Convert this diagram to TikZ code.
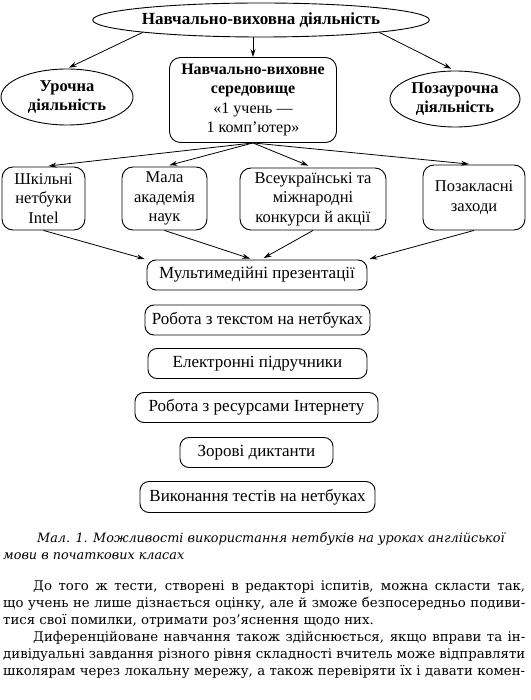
\documentclass[tikz,border=0pt]{standalone}
\usepackage{fontspec}
\setmainfont{Liberation Serif}
\newfontfamily\bodyfont{DejaVu Serif}
\usetikzlibrary{shapes.geometric,arrows.meta}
\begin{document}
\begin{tikzpicture}[x=1pt,y=-1pt,
  ell/.style={draw,ellipse,line width=0.9pt,inner sep=0pt,align=center,
    font=\fontsize{16.5}{19}\selectfont\bfseries},
  rbox/.style={draw,rounded corners=11pt,line width=0.9pt,inner sep=0pt,align=center,
    font=\fontsize{16.5}{19.5}\selectfont},
  sbox/.style={draw,rounded corners=9pt,line width=0.9pt,inner sep=0pt,
    minimum height=30pt,font=\fontsize{17}{20}\selectfont},
  arr/.style={-{Stealth[length=8pt,width=5pt]},line width=0.8pt},
  bodyline/.style={anchor=base west,inner sep=0pt,
    font=\bodyfont\fontsize{13.3}{17}\selectfont},
  capline/.style={anchor=base west,inner sep=0pt,
    font=\bodyfont\itshape\fontsize{12.8}{17}\selectfont},
]
\useasboundingbox (0,0) rectangle (530,700);

% top level
\node[ell,minimum width=288pt,minimum height=34pt,font=\fontsize{17}{19}\selectfont\bfseries] (top) at (261,20) {Навчально-виховна діяльність};
\node[ell,minimum width=132pt,minimum height=56pt] (uroch) at (67,97) {Урочна\\діяльність};
\node[ell,minimum width=130pt,minimum height=56pt] (poza) at (455,99) {Позаурочна\\діяльність};
\node[rbox,minimum width=167pt,minimum height=85pt,font=\fontsize{16}{19.5}\selectfont] (env) at (253,100)
  {\textbf{Навчально-виховне}\\\textbf{середовище}\\«1 учень —\\1 комп’ютер»};

% row of boxes
\node[rbox,minimum width=83pt,minimum height=63pt] (b1) at (43.5,198.5) {Шкільні\\нетбуки\\Intel};
\node[rbox,minimum width=85pt,minimum height=63pt] (b2) at (164.5,198.5) {Мала\\академія\\наук};
\node[rbox,minimum width=146pt,minimum height=62pt] (b3) at (313,199) {Всеукраїнські та\\міжнародні\\конкурси й акції};
\node[rbox,minimum width=102pt,minimum height=65pt] (b4) at (474,197.5) {Позакласні\\заходи};

% stack
\node[sbox,minimum width=220pt] (s1) at (257,275) {Мультимедійні презентації};
\node[sbox,minimum width=225pt] (s2) at (257.5,320) {Робота з текстом на нетбуках};
\node[sbox,minimum width=219pt] (s3) at (257.5,363.5) {Електронні підручники};
\node[sbox,minimum width=243pt] (s4) at (256.5,407.5) {Робота з ресурсами Інтернету};
\node[sbox,minimum width=153pt] (s5) at (256.5,452.5) {Зорові диктанти};
\node[sbox,minimum width=235pt,minimum height=31pt] (s6) at (257.5,497) {Виконання тестів на нетбуках};

% connectors
\draw[arr,shorten >=2pt] (top.186) -- (uroch.north);
\draw[arr,shorten >=4pt] (top.-6) -- (poza.north);
\draw[arr] (top.south -| env.north) -- (env.north);
\draw[arr,shorten >=5pt] (env.south) -- (b1.north);
\draw[arr,shorten >=5pt] (env.south) -- (b2.north);
\draw[arr,shorten >=5pt] (env.south) -- (b3.north);
\draw[arr,shorten >=5pt] (env.south) -- (b4.north);
\draw[arr,shorten >=2pt] (b1.south) -- (s1.north west);
\draw[arr,shorten >=3pt] (b2.south) -- ([xshift=-4pt]s1.north);
\draw[arr,shorten >=3pt] (b3.south) -- ([xshift=4pt]s1.north);
\draw[arr,shorten >=2pt] (b4.south) -- (s1.north east);

% caption
\node[capline] (c1) at (37,542) {Мал. 1. Можливості використання нетбуків на уроках англійської};
\node[capline] (c2) at (3,559) {мови в початкових класах};

% body text
\node[bodyline] (l1) at (33,590) {\makebox[492pt][s]{До того ж тести, створені в редакторі іспитів, можна скласти так,}};
\node[bodyline] (l2) at (3,607) {\makebox[522pt][s]{що учень не лише дізнається оцінку, але й зможе безпосередньо подиви-}};
\node[bodyline] (l3) at (3,624) {тися свої помилки, отримати роз’яснення щодо них.};
\node[bodyline] (l4) at (33,641) {\makebox[492pt][s]{Диференційоване навчання також здійснюється, якщо вправи та ін-}};
\node[bodyline] (l5) at (3,658) {\makebox[522pt][s]{дивідуальні завдання різного рівня складності вчитель може відправляти}};
\node[bodyline] (l6) at (3,675) {\makebox[522pt][s]{школярам через локальну мережу, а також перевіряти їх і давати комен-}};
\end{tikzpicture}
\end{document}
